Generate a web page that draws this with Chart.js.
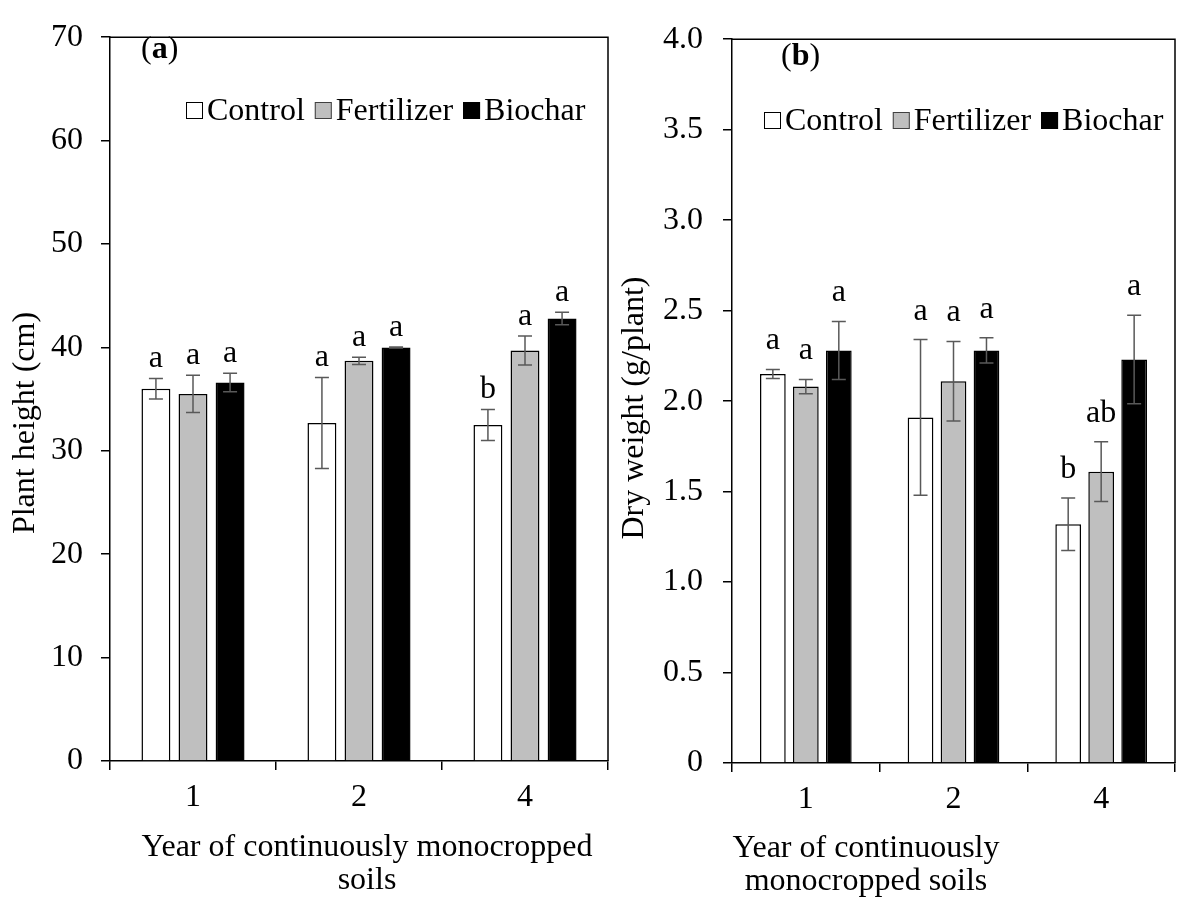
<!DOCTYPE html>
<html>
<head>
<meta charset="utf-8">
<script src="https://cdn.jsdelivr.net/npm/chart.js@4.4.0/dist/chart.umd.min.js"></script>
<style>
  body { margin: 0; background: #fff; }
  #wrap { position: relative; width: 1179px; height: 900px; background: #fff; }
  #heightBox { position: absolute; left: 0; top: 0; width: 620px; height: 900px; }
  #weightBox { position: absolute; left: 600px; top: 0; width: 579px; height: 900px; }
</style>
</head>
<body>
<div id="wrap">
  <div id="heightBox"><canvas id="heightChart"></canvas></div>
  <div id="weightBox"><canvas id="weightChart"></canvas></div>
</div>
<script>
const years = ['1', '2', '4'];
const treatments = ['Control', 'Fertilizer', 'Biochar'];
const fills = ['#ffffff', '#bfbfbf', '#000000'];

// plant height (cm), mean and error
const heightControl = [36.0, 32.7, 32.5];
const heightFertilizer = [35.5, 38.7, 39.7];
const heightBiochar = [36.6, 40.0, 42.8];
const heightControlErr = [1.0, 4.4, 1.5];
const heightFertilizerErr = [1.8, 0.35, 1.4];
const heightBiocharErr = [0.9, 0.05, 0.6];
const heightControlSig = ['a', 'a', 'b'];
const heightFertilizerSig = ['a', 'a', 'a'];
const heightBiocharSig = ['a', 'a', 'a'];
const heightTicks = ['0', '10', '20', '30', '40', '50', '60', '70'];

// dry weight (g/plant), mean and error
const weightControl = [2.15, 1.91, 1.32];
const weightFertilizer = [2.08, 2.11, 1.61];
const weightBiochar = [2.28, 2.28, 2.23];
const weightControlErr = [0.025, 0.43, 0.145];
const weightFertilizerErr = [0.04, 0.22, 0.165];
const weightBiocharErr = [0.16, 0.07, 0.245];
const weightControlSig = ['a', 'a', 'b'];
const weightFertilizerSig = ['a', 'a', 'ab'];
const weightBiocharSig = ['a', 'a', 'a'];
const weightTicks = ['0', '0.5', '1.0', '1.5', '2.0', '2.5', '3.0', '3.5', '4.0'];

const FONT = "'Liberation Serif', 'Times New Roman', serif";
const FS = 32;

function makeSets(means, errs, sigs) {
    return means.map((m, i) => ({
        label: treatments[i],
        data: m,
        errors: errs[i],
        sig: sigs[i],
        backgroundColor: fills[i],
        borderColor: '#000',
        borderWidth: 1.5,
        borderSkipped: 'start',
        barPercentage: 0.78,
        categoryPercentage: 0.67
    }));
}

// error bars + significance letters on top of each bar
const errorBars = {
    id: 'errorBars',
    afterDatasetsDraw(chart, args, opts) {
        const ctx = chart.ctx;
        const y = chart.scales.y;
        ctx.save();
        chart.data.datasets.forEach((ds, i) => {
            chart.getDatasetMeta(i).data.forEach((bar, j) => {
                const v = ds.data[j], e = ds.errors[j];
                const top = y.getPixelForValue(v + e);
                const bot = y.getPixelForValue(v - e);
                ctx.strokeStyle = '#595959';
                ctx.lineWidth = 1.5;
                ctx.beginPath();
                ctx.moveTo(bar.x, top); ctx.lineTo(bar.x, bot);
                ctx.moveTo(bar.x - 7, top); ctx.lineTo(bar.x + 7, top);
                ctx.moveTo(bar.x - 7, bot); ctx.lineTo(bar.x + 7, bot);
                ctx.stroke();
                ctx.fillStyle = '#000';
                ctx.font = FS + 'px ' + FONT;
                ctx.textAlign = 'center';
                ctx.textBaseline = 'alphabetic';
                ctx.fillText(ds.sig[j], bar.x, top - opts.gap);
            });
        });
        ctx.restore();
    }
};

// frame, legend, panel tag and axis titles
const panelDeco = {
    id: 'panelDeco',
    afterDraw(chart, args, o) {
        const ctx = chart.ctx;
        const a = chart.chartArea;
        ctx.save();
        ctx.strokeStyle = '#000';
        ctx.lineWidth = 1.5;
        ctx.beginPath();
        ctx.moveTo(a.left, a.top); ctx.lineTo(a.right, a.top); ctx.lineTo(a.right, a.bottom);
        ctx.stroke();

        // legend
        ctx.font = FS + 'px ' + FONT;
        ctx.textBaseline = 'alphabetic';
        ctx.textAlign = 'left';
        let x = o.legendX;
        chart.data.datasets.forEach((ds, i) => {
            ctx.fillStyle = ds.backgroundColor;
            ctx.fillRect(x, o.legendY - 18, 17, 17);
            ctx.lineWidth = 1;
            ctx.strokeStyle = i === 1 ? '#404040' : '#000';
            ctx.strokeRect(x + 0.5, o.legendY - 17.5, 16, 16);
            x += 21;
            ctx.fillStyle = '#000';
            ctx.fillText(ds.label, x, o.legendY);
            x += ctx.measureText(ds.label).width + 10;
        });

        // panel tag like "(a)"
        ctx.font = FS + 'px ' + FONT;
        ctx.fillText('(', o.tagX, o.tagY);
        let tx = o.tagX + ctx.measureText('(').width;
        ctx.font = 'bold ' + FS + 'px ' + FONT;
        ctx.fillText(o.tag, tx, o.tagY);
        tx += ctx.measureText(o.tag).width;
        ctx.font = FS + 'px ' + FONT;
        ctx.fillText(')', tx, o.tagY);

        // axis titles
        ctx.textAlign = 'center';
        o.xTitle.forEach((line, k) => ctx.fillText(line, o.xTitleX, o.xTitleY + k * 33));
        ctx.translate(o.yTitleX, o.yTitleY);
        ctx.rotate(-Math.PI / 2);
        ctx.textBaseline = 'middle';
        ctx.fillText(o.yTitle, 0, 0);
        ctx.restore();
    }
};

function axisConfig(min, max, step, labels, yWidth, xHeight, yPad) {
    return {
        x: {
            grid: { offset: true, drawOnChartArea: false, drawTicks: true, tickLength: 9, color: '#000', lineWidth: 1.5 },
            border: { color: '#000', width: 1.5 },
            ticks: { color: '#000', padding: 8, font: { family: FONT, size: FS } },
            afterFit(s) { s.height = xHeight; }
        },
        y: {
            min: min, max: max,
            grid: { drawOnChartArea: false, drawTicks: true, tickLength: 9, color: '#000', lineWidth: 1.5 },
            border: { color: '#000', width: 1.5 },
            ticks: {
                stepSize: step, color: '#000', padding: yPad,
                font: { family: FONT, size: FS },
                callback: (v, i) => labels[i]
            },
            afterFit(s) { s.width = yWidth; }
        }
    };
}

new Chart(document.getElementById('heightChart'), {
    type: 'bar',
    data: {
        labels: years,
        datasets: makeSets(
            [heightControl, heightFertilizer, heightBiochar],
            [heightControlErr, heightFertilizerErr, heightBiocharErr],
            [heightControlSig, heightFertilizerSig, heightBiocharSig])
    },
    options: {
        responsive: true,
        maintainAspectRatio: false,
        animation: false,
        layout: { padding: { left: 0, top: 27, right: 12, bottom: 0 } },
        scales: axisConfig(0, 70, 10, heightTicks, 110, 139, 18),
        plugins: {
            legend: { display: false },
            tooltip: { enabled: false },
            errorBars: { gap: 11 },
            panelDeco: {
                legendX: 186, legendY: 120,
                tag: 'a', tagX: 141, tagY: 58,
                xTitle: ['Year of continuously monocropped', 'soils'], xTitleX: 367, xTitleY: 856,
                yTitle: 'Plant height (cm)', yTitleX: 26, yTitleY: 423
            }
        }
    },
    plugins: [errorBars, panelDeco]
});

new Chart(document.getElementById('weightChart'), {
    type: 'bar',
    data: {
        labels: years,
        datasets: makeSets(
            [weightControl, weightFertilizer, weightBiochar],
            [weightControlErr, weightFertilizerErr, weightBiocharErr],
            [weightControlSig, weightFertilizerSig, weightBiocharSig])
    },
    options: {
        responsive: true,
        maintainAspectRatio: false,
        animation: false,
        layout: { padding: { left: 0, top: 23, right: 4, bottom: 0 } },
        scales: axisConfig(0, 4, 0.5, weightTicks, 132, 137, 20),
        plugins: {
            legend: { display: false },
            tooltip: { enabled: false },
            errorBars: { gap: 20 },
            panelDeco: {
                legendX: 164, legendY: 130,
                tag: 'b', tagX: 181, tagY: 65,
                xTitle: ['Year of continuously', 'monocropped soils'], xTitleX: 266, xTitleY: 857,
                yTitle: 'Dry weight (g/plant)', yTitleX: 35, yTitleY: 408
            }
        }
    },
    plugins: [errorBars, panelDeco]
});
</script>
</body>
</html>
